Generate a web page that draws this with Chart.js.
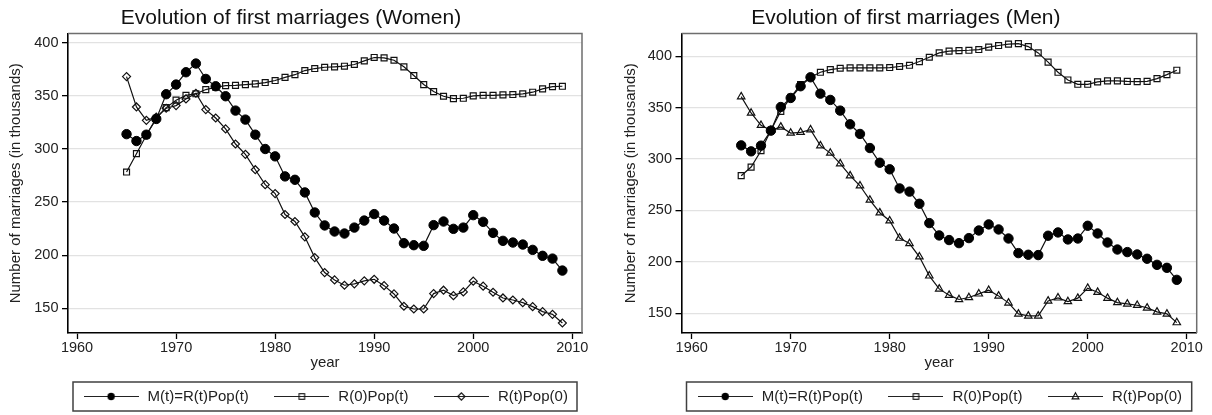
<!DOCTYPE html>
<html><head><meta charset="utf-8">
<script src="https://cdn.jsdelivr.net/npm/chart.js@4.4.1/dist/chart.umd.min.js"></script>
<style>
html,body{margin:0;padding:0;background:#fff;width:1212px;height:415px;overflow:hidden}
canvas{position:absolute;top:0}
#c1{left:0}#c2{left:606px}
</style></head><body>
<canvas id="c1" width="606" height="415"></canvas>
<canvas id="c2" width="606" height="415"></canvas>
<script>
const years = [1965,1966,1967,1968,1969,1970,1971,1972,1973,1974,
  1975,1976,1977,1978,1979,1980,1981,1982,1983,1984,
  1985,1986,1987,1988,1989,1990,1991,1992,1993,1994,
  1995,1996,1997,1998,1999,2000,2001,2002,2003,2004,
  2005,2006,2007,2008,2009];
const xTickLabels = [1960,1970,1980,1990,2000,2010];
const yTickLabels = [150,200,250,300,350,400];
const seriesNames = ['M(t)=R(t)Pop(t)','R(0)Pop(t)','R(t)Pop(0)'];

const womenM = [314,307.5,313.5,328.3,351.6,360.7,372.3,380.5,366,359.1,
  349.7,336.2,327.7,313.5,300,293.1,274.2,271,259.1,240.2,
  228,222.3,220.4,226,232.6,238.7,232.6,225.1,211.3,209.4,
  208.8,228.3,231.7,224.8,226,237.7,231.4,221,213.5,211.9,
  210,205,199.4,196.8,185.5];
const womenR0 = [278.3,295.6,313,329,339,346,350.6,352,356,358.2,
  359.7,360,360.7,361.3,362.6,364.5,367.5,370,373.9,375.8,
  377,377.4,378,379.6,383,386.2,385.8,383.6,377.4,369.2,
  360.7,354.1,349.7,347.5,347.8,350,350.6,350.6,351,351.3,
  352,353.5,356.6,358.8,359.1];
const womenRt = [368.2,339.6,327,330,338.4,340.9,347.2,352.5,337.1,329.2,
  318.9,304.7,295,280.5,266.4,258,238.3,231.7,217.3,197.7,
  183.6,176.7,171.7,173,175.8,177.3,171.3,163.5,151.9,149.3,
  149.3,163.8,167,161.9,165.4,175.5,170.8,165.1,159.7,157.8,
  155.3,151.5,146.8,144.3,136.1];

const menM = [313.3,307.5,313,327.6,350.6,359.4,370.8,379.5,363.6,357.5,
  347.1,333.8,324.4,310.7,296.4,290,271.4,268.3,256.5,237.7,
  225.7,221.2,218.2,223.1,230.5,236.4,231.5,222.7,208.5,206.9,
  206.6,225.4,228.6,221.8,222.7,235.1,227.6,218.8,212,209.5,
  207.2,203,197.1,194.2,182.5];
const menR0 = [283.8,292.2,308.1,328,346.4,360,372.4,379.5,384.4,387,
  388.3,388.6,388.6,388.6,388.6,389,390,391.2,394.8,399,
  403.2,404.9,405.5,405.8,406.5,408.8,410.4,411.7,412.3,409.4,
  403.2,394.2,384.4,376.9,372.7,372.7,375,376,376,375.5,
  375.3,375.5,378.2,382.1,386.4];
const menRt = [360.7,344.8,332.8,328,331.2,325.3,326,328.6,313,305.8,
  295.5,283.8,274,260.1,247.8,240,223.1,217.8,204.9,186.4,
  173.7,167.6,163.4,165.3,168.9,172.4,166.9,160.1,149.4,147.4,
  147.4,162,165,161.4,164.7,174.4,170.5,164.7,160.4,159.1,
  157.8,155.2,151.3,149.4,140.9];

Chart.defaults.font.family = "'Liberation Sans', Arial, sans-serif";
Chart.defaults.color = '#222';

function legendSymbol(kind) {
  const c = document.createElement('canvas');
  c.width = 55; c.height = 15;
  const g = c.getContext('2d');
  g.strokeStyle = '#222'; g.lineWidth = 1.2;
  g.beginPath(); g.moveTo(0, 7.5); g.lineTo(55, 7.5); g.stroke();
  const cx = 27.5, cy = 7.5;
  g.lineWidth = 1.1; g.strokeStyle = '#111';
  if (kind === 'circle') {
    g.fillStyle = '#000'; g.beginPath(); g.arc(cx, cy, 3.7, 0, Math.PI * 2); g.fill();
  } else if (kind === 'rect') {
    g.strokeRect(cx - 2.8, cy - 2.8, 5.6, 5.6);
  } else if (kind === 'rectRot') {
    g.beginPath(); g.moveTo(cx - 3.6, cy); g.lineTo(cx, cy - 3.6); g.lineTo(cx + 3.6, cy); g.lineTo(cx, cy + 3.6); g.closePath(); g.stroke();
  } else if (kind === 'triangle') {
    g.beginPath(); g.moveTo(cx, cy - 3.8); g.lineTo(cx + 3.4, cy + 2.4); g.lineTo(cx - 3.4, cy + 2.4); g.closePath(); g.stroke();
  }
  return c;
}

const framePlugin = {
  id: 'frame',
  afterLayout(chart) {
    const lg = chart.legend, a = chart.chartArea;
    const shift = (a.left + a.right) / 2 - (lg.left + lg.right) / 2;
    lg.left += shift; lg.right += shift;
  },
  beforeDatasetsDraw(chart) {
    const {ctx, chartArea: a} = chart;
    ctx.save();
    ctx.strokeStyle = '#6e6e6e'; ctx.lineWidth = 1.5;
    ctx.beginPath(); ctx.moveTo(a.left, a.top); ctx.lineTo(a.right, a.top); ctx.lineTo(a.right, a.bottom); ctx.stroke();
    ctx.restore();
  },
  afterDraw(chart) {
    const {ctx, chartArea: a} = chart;
    const hb = chart.legend.legendHitBoxes;
    if (!hb || !hb.length) return;
    let top = Infinity, bot = -Infinity;
    hb.forEach(h => { top = Math.min(top, h.top); bot = Math.max(bot, h.top + h.height); });
    ctx.save();
    ctx.strokeStyle = '#404040'; ctx.lineWidth = 1.5;
    ctx.strokeRect(a.left + 5, top - 7, a.right - a.left - 10, bot - top + 14);
    ctx.restore();
  }
};

function makeChart(id, title, mVals, r0Vals, rtVals, thirdStyle, xr, yr, pad, yWidth) {
  const pts = vals => years.map((yv, i) => ({x: yv, y: vals[i]}));
  const styles = ['circle', 'rect', thirdStyle];
  const ds = [
    {label: seriesNames[0], data: pts(mVals), pointStyle: 'circle', pointRadius: 4.7,
     pointBackgroundColor: '#000', pointBorderColor: '#000', pointBorderWidth: 1},
    {label: seriesNames[1], data: pts(r0Vals), pointStyle: 'rect', pointRadius: 4.2,
     pointBackgroundColor: 'rgba(0,0,0,0)', pointBorderColor: '#111', pointBorderWidth: 1.2},
    {label: seriesNames[2], data: pts(rtVals), pointStyle: thirdStyle, pointRadius: thirdStyle === 'triangle' ? 4.3 : 4,
     pointBackgroundColor: 'rgba(0,0,0,0)', pointBorderColor: '#111', pointBorderWidth: 1.2}
  ].map(d => Object.assign(d, {borderColor: '#111', borderWidth: 1.2, tension: 0, fill: false, pointHoverRadius: 4}));

  return new Chart(document.getElementById(id), {
    type: 'line',
    data: {datasets: ds},
    plugins: [framePlugin],
    options: {
      responsive: false, animation: false, devicePixelRatio: 1,
      layout: {padding: pad},
      plugins: {
        title: {display: true, text: title, color: '#111',
          font: {size: 21, weight: 'normal'}, padding: {top: 5.6, bottom: 2.7}},
        legend: {position: 'bottom', align: 'center',
          labels: {usePointStyle: true, pointStyleWidth: 58, padding: 24, color: '#222',
            font: {size: 15},
            generateLabels(chart) {
              return chart.data.datasets.map((d, i) => ({
                text: d.label, datasetIndex: i, pointStyle: legendSymbol(styles[i]),
                fillStyle: '#000', strokeStyle: '#000', lineWidth: 0, hidden: false, fontColor: '#222'
              }));
            }}},
        tooltip: {enabled: false}
      },
      scales: {
        x: {type: 'linear', min: xr[0], max: xr[1],
          afterBuildTicks: s => { s.ticks = xTickLabels.map(v => ({value: v})); },
          afterFit: s => { s.height = 32; },
          grid: {drawOnChartArea: false, drawTicks: true, tickLength: 6, tickColor: '#000', tickWidth: 1.3},
          border: {display: true, color: '#000', width: 1.6},
          ticks: {padding: 0.5, color: '#222', font: {size: 14.5}, maxRotation: 0, autoSkip: false,
            callback: v => String(v)},
          title: {display: true, text: 'year', color: '#222', font: {size: 15}, padding: {top: 0, bottom: -6.5}}
        },
        y: {type: 'linear', min: yr[0], max: yr[1],
          afterBuildTicks: s => { s.ticks = yTickLabels.map(v => ({value: v})); },
          afterFit: s => { s.width = yWidth; },
          grid: {color: '#e2e2e2', lineWidth: 1.3, drawTicks: true, tickLength: 6, tickColor: '#000', tickWidth: 1.3},
          border: {display: true, color: '#000', width: 1.6},
          ticks: {padding: 3.5, color: '#222', font: {size: 14.5}, callback: v => String(v)},
          title: {display: true, text: 'Number of marriages (in thousands)', color: '#222',
            font: {size: 15}, padding: {top: 7, bottom: 0}}
        }
      }
    }
  });
}

makeChart('c1', 'Evolution of first marriages (Women)', womenM, womenR0, womenRt, 'rectRot',
  [1959.09, 2010.98], [126.7, 408.8], {left: 0, right: 24, top: 0, bottom: 1}, 68);
makeChart('c2', 'Evolution of first marriages (Men)', menM, menR0, menRt, 'triangle',
  [1958.97, 2011.01], [130.8, 422.1], {left: 9, right: 15.3, top: 0, bottom: 1}, 66.5);
</script>
</body></html>
